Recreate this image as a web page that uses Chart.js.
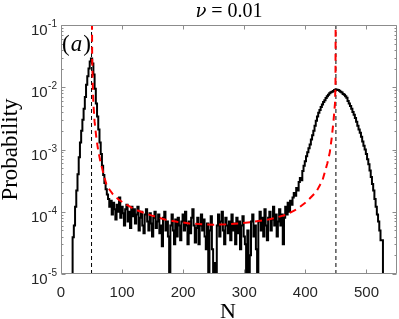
<!DOCTYPE html>
<html>
<head>
<meta charset="utf-8">
<script src="https://cdn.jsdelivr.net/npm/chart.js@4.4.1/dist/chart.umd.min.js"></script>
<style>
  html, body { margin: 0; padding: 0; background: #fff; }
  #wrap { width: 399px; height: 319px; }
</style>
</head>
<body>
<div id="wrap"><canvas id="probChart" width="399" height="319"></canvas></div>
<script>
// histogram, bins of width 2, first bin centred on N = 18
const binStart = 18;
const binWidth = 2;
const probability = [
  0, 3.9e-5, 6e-5, 1.2e-4, 2.2e-4, 4e-4, 7.5e-4, 1.3e-3, 2.0e-3, 3.0e-3,
  4.5e-3, 7e-3, 1.1e-2, 1.5e-2, 2.0e-2, 2.6e-2, 2.9e-2, 2.4e-2, 1.6e-2, 9.5e-3,
  5.5e-3, 3.4e-3, 2.1e-3, 1.3e-3, 8.5e-4, 5.5e-4, 3.9e-4, 2.9e-4, 2.3e-4, 1.9e-4,
  16e-5, 12e-5, 15e-5, 9e-5, 14e-5, 11e-5, 7.5e-5, 13e-5, 10e-5, 17e-5,
  8e-5, 12e-5, 9.5e-5, 6e-5, 11e-5, 13e-5, 7e-5, 10e-5, 5.5e-5, 12e-5,
  8.5e-5, 11e-5, 6.5e-5, 9e-5, 12e-5, 5e-5, 8e-5, 10e-5, 6e-5, 4.5e-5,
  9e-5, 11e-5, 7e-5, 5e-5, 9.5e-5, 6.5e-5, 4e-5, 8e-5, 10e-5, 5.5e-5,
  7e-5, 9e-5, 4.5e-5, 6e-5, 2.8e-5, 8e-5, 10e-5, 5e-5, 7e-5, 4e-5,
  0, 6e-5, 9e-5, 5e-5, 3e-5, 7.5e-5, 4e-5, 8e-5, 6e-5, 3.5e-5,
  7e-5, 9e-5, 5e-5, 10e-5, 6e-5, 3e-5, 7e-5, 4.5e-5, 8e-5, 11e-5,
  6e-5, 3.2e-5, 5.5e-5, 8e-5, 3e-5, 6e-5, 9e-5, 5e-5, 7.5e-5, 4e-5,
  2.5e-5, 6.5e-5, 0, 5e-5, 8.5e-5, 2.5e-5, 0, 1.5e-5, 0, 6e-5,
  9e-5, 4e-5, 7e-5, 10e-5, 5e-5, 3e-5, 8e-5, 6e-5, 4.5e-5, 7e-5,
  3.5e-5, 9e-5, 5e-5, 6.5e-5, 3e-5, 8e-5, 4.5e-5, 7e-5, 2.5e-5, 6e-5,
  8.5e-5, 4e-5, 3e-5, 0, 5e-5, 0, 2e-5, 7e-5, 9e-5, 4e-5,
  6e-5, 2.5e-5, 0, 7e-5, 10e-5, 5e-5, 8e-5, 4e-5, 11e-5, 6e-5,
  3.5e-5, 8e-5, 10e-5, 5e-5, 7.5e-5, 12e-5, 6e-5, 9e-5, 4e-5, 7e-5,
  11e-5, 6e-5, 9e-5, 3e-5, 8e-5, 12e-5, 9e-5, 14e-5, 10e-5, 15e-5,
  13e-5, 17e-5, 20e-5, 18e-5, 24e-5, 22e-5, 30e-5, 35e-5, 32e-5, 45e-5,
  55e-5, 65e-5, 78e-5, 90e-5, 105e-5, 120e-5, 145e-5, 170e-5, 200e-5, 240e-5,
  290e-5, 340e-5, 390e-5, 430e-5, 480e-5, 530e-5, 580e-5, 620e-5, 670e-5, 720e-5,
  760e-5, 800e-5, 830e-5, 850e-5, 870e-5, 900e-5, 920e-5, 910e-5, 900e-5, 880e-5,
  850e-5, 820e-5, 780e-5, 760e-5, 720e-5, 680e-5, 600e-5, 550e-5, 500e-5, 450e-5,
  400e-5, 360e-5, 320e-5, 280e-5, 240e-5, 210e-5, 185e-5, 160e-5, 135e-5, 115e-5,
  100e-5, 85e-5, 70e-5, 58e-5, 46e-5, 36e-5, 28e-5, 22e-5, 16e-5, 12e-5,
  9e-5, 7e-5, 5e-5, 3.5e-5, 3.5e-5, 0, 0
];
const binCenters = probability.map((_, i) => binStart + i * binWidth);

// red dashed theory curve
const fitN = [50.3, 51, 52, 53, 55, 58, 61, 64, 70, 75, 85, 95, 107, 120, 137, 150, 170, 190,
  210, 230, 250, 270, 290, 310, 337, 355, 369, 386, 402, 418, 428, 436, 440, 443, 446,
  448.5, 449.3, 449.8];
const fitP = [1, 3e-2, 1.1e-2, 5.5e-3, 2.8e-3, 1.5e-3, 9.5e-4, 6.8e-4, 3.9e-4, 2.6e-4,
  1.9e-4, 1.55e-4, 1.3e-4, 1.1e-4, 9.5e-5, 8.6e-5, 7.5e-5, 6.9e-5, 6.5e-5, 6.3e-5,
  6.2e-5, 6.3e-5, 6.5e-5, 6.8e-5, 7.4e-5, 8.2e-5, 9e-5, 1.1e-4, 1.45e-4, 2.1e-4,
  3.2e-4, 6e-4, 9e-4, 1.5e-3, 2.8e-3, 5.5e-3, 1.2e-2, 1];

// black dashed markers
const markerN = [50, 450];

const xTicks = [0, 100, 200, 300, 400, 500];
const yTicks = [1e-5, 1e-4, 1e-3, 1e-2, 1e-1];
const yTickExp = ['-5', '-4', '-3', '-2', '-1'];

const FLOOR = 1e-7; // empty bins drop below the axis

const axisGray = '#8c8c8c';
const labelInk = '#262626';

// MATLAB style box, inward ticks, 10^n labels and titles
const matlabAxes = {
  id: 'matlabAxes',
  afterDatasetsDraw(chart) {
    const { ctx, chartArea: a, scales: { x, y } } = chart;
    const L = Math.round(a.left) + 0.5, R = Math.round(a.right) - 0.5;
    const T = Math.round(a.top) + 0.5, B = Math.round(a.bottom) - 0.5;
    ctx.save();
    ctx.strokeStyle = axisGray;
    ctx.lineWidth = 1;
    ctx.beginPath();
    ctx.rect(L, T, R - L, B - T);
    // x ticks
    xTicks.forEach(v => {
      const px = Math.round(x.getPixelForValue(v)) + 0.5;
      ctx.moveTo(px, B); ctx.lineTo(px, B - 4);
      ctx.moveTo(px, T); ctx.lineTo(px, T + 4);
    });
    // y major + minor ticks
    yTicks.forEach((v, i) => {
      const py = Math.round(y.getPixelForValue(v)) + 0.5;
      ctx.moveTo(L, py); ctx.lineTo(L + 4, py);
      ctx.moveTo(R, py); ctx.lineTo(R - 4, py);
      if (i < yTicks.length - 1) {
        for (let k = 2; k <= 9; k++) {
          const my = Math.round(y.getPixelForValue(v * k)) + 0.5;
          ctx.moveTo(L, my); ctx.lineTo(L + 2, my);
          ctx.moveTo(R, my); ctx.lineTo(R - 2, my);
        }
      }
    });
    ctx.stroke();

    // tick labels
    ctx.fillStyle = labelInk;
    ctx.font = '15px "Liberation Sans", Arial, sans-serif';
    ctx.textAlign = 'center';
    ctx.textBaseline = 'alphabetic';
    xTicks.forEach(v => ctx.fillText(String(v), x.getPixelForValue(v), a.bottom + 23));

    yTicks.forEach((v, i) => {
      const py = y.getPixelForValue(v);
      ctx.font = '10px "Liberation Sans", Arial, sans-serif';
      const ew = ctx.measureText(yTickExp[i]).width;
      const ex = a.left - 4 - ew;
      ctx.textAlign = 'left';
      ctx.fillText(yTickExp[i], ex, py + 2);
      ctx.font = '15px "Liberation Sans", Arial, sans-serif';
      ctx.textAlign = 'right';
      ctx.fillText('10', ex - 0.5, py + 10);
    });

    // axis titles
    ctx.fillStyle = '#000';
    ctx.font = '22px "Liberation Serif", "Times New Roman", serif';
    ctx.textAlign = 'center';
    ctx.fillText('N', (a.left + a.right) / 2 - 1, 318);

    ctx.save();
    ctx.translate(17, (a.top + a.bottom) / 2);
    ctx.rotate(-Math.PI / 2);
    ctx.font = '23px "Liberation Serif", "Times New Roman", serif';
    ctx.fillText('Probability', 0, 0);
    ctx.restore();

    // title: italic nu, upright rest
    const nu = 'ν', rest = ' = 0.01';
    const nuFont = 'italic 18px "DejaVu Serif", serif';
    const restFont = '20px "Liberation Serif", serif';
    ctx.font = nuFont;
    const w1 = ctx.measureText(nu).width;
    ctx.font = restFont;
    const w2 = ctx.measureText(rest).width;
    const tx = (a.left + a.right) / 2 - (w1 + w2) / 2;
    ctx.textAlign = 'left';
    ctx.font = nuFont;
    ctx.fillText(nu, tx, 17);
    ctx.font = restFont;
    ctx.fillText(rest, tx + w1, 17);

    // panel tag (a)
    ctx.font = '23px "Liberation Serif", serif';
    const p1 = ctx.measureText('(').width;
    ctx.fillText('(', 62, 51);
    ctx.font = 'italic 23px "Liberation Serif", serif';
    const aw = ctx.measureText('a').width;
    ctx.fillText('a', 62 + p1 + 1, 51);
    ctx.font = '23px "Liberation Serif", serif';
    ctx.fillText(')', 62 + p1 + aw + 2, 51);
    ctx.restore();
  }
};

const ctx = document.getElementById('probChart').getContext('2d');
new Chart(ctx, {
  type: 'line',
  data: {
    datasets: [
      {
        label: 'theory',
        data: fitN.map((n, i) => ({ x: n, y: fitP[i] })),
        borderColor: '#ff0000',
        borderWidth: 2,
        borderDash: [7, 5],
        tension: 0,
        pointRadius: 0
      },
      {
        label: 'simulation',
        data: binCenters.map((n, i) => ({ x: n, y: probability[i] > 0 ? probability[i] : FLOOR })),
        borderColor: '#000',
        borderWidth: 2,
        stepped: 'middle',
        pointRadius: 0
      },
      ...markerN.map(n => ({
        label: 'N=' + n,
        data: [{ x: n, y: yTicks[0] }, { x: n, y: yTicks[yTicks.length - 1] }],
        borderColor: '#000',
        borderWidth: 1,
        borderDash: [4, 3],
        pointRadius: 0
      }))
    ]
  },
  options: {
    responsive: false,
    animation: false,
    layout: { padding: { left: 61, top: 25, right: 2, bottom: 45 } },
    plugins: { legend: { display: false }, tooltip: { enabled: false } },
    scales: {
      x: { type: 'linear', min: 0, max: 550, display: false },
      y: { type: 'logarithmic', min: 1e-5, max: 1e-1, display: false }
    }
  },
  plugins: [matlabAxes]
});
</script>
</body>
</html>
